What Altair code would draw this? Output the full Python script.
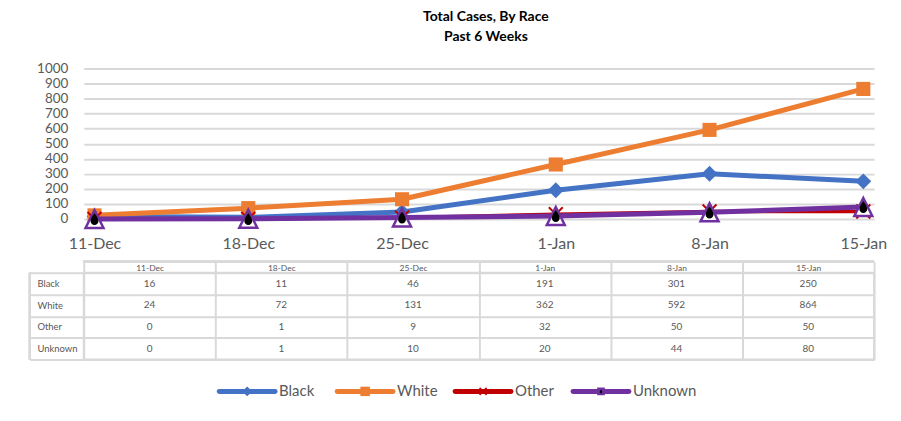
import altair as alt
import pandas as pd

# ---- data ----
dates = ["11-Dec", "18-Dec", "25-Dec", "1-Jan", "8-Jan", "15-Jan"]
series = ["Black", "White", "Other", "Unknown"]
black = [16, 11, 46, 191, 301, 250]
white = [24, 72, 131, 362, 592, 864]
other = [0, 1, 9, 32, 50, 50]
unknown = [0, 1, 10, 20, 44, 80]
colors = ["#4472C4", "#ED7D31", "#C00000", "#7030A0"]

values = {"Black": black, "White": white, "Other": other, "Unknown": unknown}
rows = []
for s in series:
    for d, v in zip(dates, values[s]):
        rows.append({"date": d, "series": s, "value": v, "label": str(v)})
df = pd.DataFrame(rows)

FONT = "Lato"
GRAY = "#595959"
GRID = "#D9D9D9"
W = 793
H = 151

X_SHAPE = "M-1,-1L1,1M-1,1L1,-1"
TRI = "M0,-1L1,1L-1,1Z"
DROP = "M0,-1C0.25,-0.55 0.65,-0.1 0.65,0.35A0.65,0.65 0 1,1 -0.65,0.35C-0.65,-0.1 -0.25,-0.55 0,-1Z"
LINE_SYM = "M-1,0L1,0"

x_line = alt.X("date:N", sort=dates,
               scale=alt.Scale(type="point", padding=0.07),
               axis=alt.Axis(title=None, labelFontSize=16, labelColor=GRAY, labelFont=FONT,
                             ticks=False, domain=False, grid=False, labelPadding=17, labelAngle=0))
y_line = alt.Y("value:Q", scale=alt.Scale(domain=[0, 1000], nice=False),
               axis=alt.Axis(title=None, values=list(range(0, 1001, 100)), format="d",
                             labelFontSize=13.5, labelOverlap=False,
                             labelColor=GRAY, labelFont=FONT, ticks=False, domain=False,
                             gridColor=GRID, gridWidth=2, labelPadding=16))

widths = {"Black": 5, "White": 5, "Other": 3.5, "Unknown": 5}
base = alt.Chart(df)
layers = []
for s, c in zip(series, colors):
    sub = base.transform_filter(alt.datum.series == s)
    layers.append(sub.mark_line(color=c, strokeWidth=widths[s], strokeJoin="round").encode(x=x_line, y=y_line))
    if s == "Black":
        layers.append(sub.mark_point(shape="diamond", filled=True, size=256, color=c, opacity=1).encode(x=x_line, y=y_line))
    elif s == "White":
        layers.append(sub.mark_point(shape="square", filled=True, size=200, color=c, opacity=1).encode(x=x_line, y=y_line))
    elif s == "Other":
        layers.append(sub.mark_point(shape=X_SHAPE, filled=False, stroke=c, strokeWidth=2, size=196, opacity=1).encode(x=x_line, y=y_line))
    else:
        layers.append(sub.mark_point(shape=TRI, filled=True, fill="white", stroke=c, strokeWidth=2.5, size=324, opacity=1).encode(x=x_line, y=y_line))
        layers.append(sub.mark_point(shape=DROP, filled=True, color="black", size=150, opacity=1).encode(x=x_line, y=y_line))

line_chart = alt.layer(*layers).properties(
    width=W, height=H,
    title=alt.TitleParams(["Total Cases, By Race", "Past 6 Weeks"], fontSize=14, font=FONT,
                          fontWeight="bold", color="black", anchor="middle", frame="group",
                          dx=7, offset=18, lineHeight=20),
)

# ---- table ----
tbl_x = alt.X("date:N", sort=dates, scale=alt.Scale(type="band", paddingInner=0, paddingOuter=0),
              axis=alt.Axis(orient="top", title=None, labelFontSize=8.5, labelColor=GRAY, labelFont=FONT,
                            tickBand="extent", tickSize=11, tickColor=GRID, tickWidth=2, domain=False,
                            labelPadding=-10.5, labelAngle=0, grid=True, gridColor=GRID, gridWidth=2))
tbl_y = alt.Y("series:N", sort=series, scale=alt.Scale(type="band", paddingInner=0, paddingOuter=0),
              axis=alt.Axis(title=None, labelFontSize=9.5, labelColor=GRAY, labelFont=FONT,
                            labelAlign="left", tickBand="extent", tickSize=54, tickColor=GRID,
                            tickWidth=2, domain=False, labelPadding=-7, grid=True,
                            gridColor=GRID, gridWidth=2))
TH = 87
tbl_text = alt.Chart(df).mark_text(font=FONT, fontSize=10, color=GRAY).encode(x=tbl_x, y=tbl_y, text="label:N")
left_border = alt.Chart(df).mark_rule(color=GRID, strokeWidth=2).encode(
    x=alt.value(-54), y=alt.value(0), y2=alt.value(TH))
top_border = alt.Chart(df).mark_rule(color=GRID, strokeWidth=2).encode(
    x=alt.value(0), x2=alt.value(W), y=alt.value(-11))
table = alt.layer(tbl_text, left_border, top_border).properties(
    width=W, height=TH, view=alt.ViewBackground(stroke=GRID, strokeWidth=2))

# ---- legend ----
leg_df = pd.DataFrame({"series": series})
leg_x = alt.X("series:N", sort=series,
              scale=alt.Scale(type="point", domain=series, range=[136, 491], padding=0), axis=None)
leg_color = alt.Color("series:N", scale=alt.Scale(domain=series, range=colors), legend=None)
lb = alt.Chart(leg_df)
leg_layers = [
    lb.mark_point(shape=LINE_SYM, filled=False, strokeWidth=5, strokeCap="round", size=3136,
                  opacity=1, xOffset=28).encode(x=leg_x, stroke=leg_color),
    lb.transform_filter(alt.datum.series == "Black").mark_point(
        shape="diamond", filled=True, size=100, color=colors[0], opacity=1, xOffset=28).encode(x=leg_x),
    lb.transform_filter(alt.datum.series == "White").mark_point(
        shape="square", filled=True, size=90, color=colors[1], opacity=1, xOffset=28).encode(x=leg_x),
    lb.transform_filter(alt.datum.series == "Other").mark_point(
        shape=X_SHAPE, filled=False, stroke=colors[2], strokeWidth=1.5, size=49, opacity=1, xOffset=28).encode(x=leg_x),
    lb.transform_filter(alt.datum.series == "Unknown").mark_point(
        shape="square", filled=True, size=60, color=colors[3], opacity=1, xOffset=28).encode(x=leg_x),
    lb.transform_filter(alt.datum.series == "Unknown").mark_point(
        shape=DROP, filled=True, size=16, color="black", opacity=1, xOffset=28).encode(x=leg_x),
    lb.mark_text(font=FONT, fontSize=15, color=GRAY, align="left", dx=60).encode(x=leg_x, text="series:N"),
]
legend = alt.layer(*leg_layers).properties(width=W, height=44)

chart = alt.vconcat(line_chart, table, legend, spacing=7).properties(
    padding={"left": 20, "top": 0, "right": 5, "bottom": 0},
    background="white",
).configure_view(stroke="transparent")

chart.save("out.html", embed_options={"renderer": "svg", "actions": False})
